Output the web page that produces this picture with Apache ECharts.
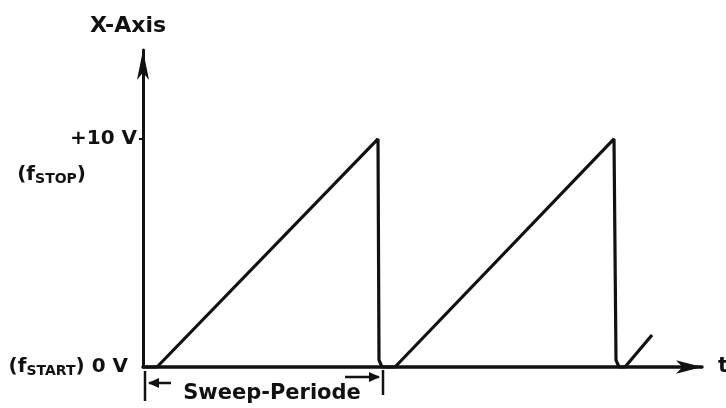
<!DOCTYPE html>
<html>
<head>
<meta charset="utf-8">
<script src="https://cdn.jsdelivr.net/npm/echarts@6/dist/echarts.min.js"></script>
<style>
  html, body { margin: 0; padding: 0; background: #fff; }
  #chart { width: 726px; height: 408px; }
</style>
</head>
<body>
<div id="chart"></div>
<script>
// sweep voltage vs time (time in arbitrary units)
var times = [0, 1.4, 23.5, 23.6, 23.9, 25.2, 47.1, 47.3, 47.6, 48.2, 50.9];
var volts = [0, 0, 10, 0.3, 0, 0, 10, 0.3, 0, 0, 1.4];
var sweepPeriod = [0.2, 24];
var yTicks = { 0: '0 V', 10: '+10 V' };

var font = 'DejaVu Sans';
var ink = '#111';
var chart = echarts.init(document.getElementById('chart'));

var option = {
    animation: false,
    backgroundColor: '#fff',
    grid: { left: 143, right: 24, top: 50, bottom: 41, containLabel: false, outerBoundsMode: 'none' },
    xAxis: {
        type: 'value',
        min: 0,
        max: 55.9,
        name: 't',
        nameGap: 16,
        nameTextStyle: { color: ink, fontFamily: font, fontSize: 21, fontWeight: 'bold' },
        axisLine: { lineStyle: { color: ink, width: 3.5 }, symbol: ['none', 'arrow'], symbolSize: [10, 26] },
        axisTick: { show: false },
        axisLabel: { show: false },
        splitLine: { show: false }
    },
    yAxis: {
        type: 'value',
        min: 0,
        max: 13.9,
        interval: 10,
        name: 'X-Axis',
        nameGap: 13,
        nameTextStyle: { color: ink, fontFamily: font, fontSize: 22, fontWeight: 'bold', padding: [0, 30, 0, 0] },
        axisLine: { lineStyle: { color: ink, width: 3 }, symbol: ['none', 'arrow'], symbolSize: [9, 30] },
        axisTick: { show: true, customValues: [10], length: 4, lineStyle: { color: ink, width: 2 } },
        splitLine: { show: false },
        axisLabel: {
            customValues: [0, 10],
            margin: 6,
            color: ink,
            fontFamily: font,
            fontSize: 20,
            fontWeight: 'bold',
            formatter: function (v) {
                if (v === 0) return '{p|(f}{s|START}{p|)} 0 V{g|}';
                return yTicks[v] || '';
            },
            rich: {
                p: { fontFamily: font, fontSize: 20, fontWeight: 'bold', color: ink },
                s: { fontFamily: font, fontSize: 14, fontWeight: 'bold', color: ink, verticalAlign: 'bottom', padding: [9, 0, 0, 0] },
                g: { width: 9 }
            }
        }
    },
    series: [{
        type: 'line',
        data: times.map(function (t, i) { return [t, volts[i]]; }),
        showSymbol: false,
        clip: false,
        lineStyle: { color: ink, width: 3.2 }
    }]
};
chart.setOption(option);

// annotations placed from data coordinates
var a = chart.convertToPixel({ gridIndex: 0 }, [sweepPeriod[0], 0]);
var b = chart.convertToPixel({ gridIndex: 0 }, [sweepPeriod[1], 0]);
var stop = chart.convertToPixel({ gridIndex: 0 }, [0, 10]);
chart.setOption({
    graphic: [
        { type: 'line', shape: { x1: a[0], y1: a[1] + 4, x2: a[0], y2: a[1] + 34 }, style: { stroke: ink, lineWidth: 2.5 } },
        { type: 'line', shape: { x1: b[0], y1: b[1] + 3, x2: b[0], y2: b[1] + 28 }, style: { stroke: ink, lineWidth: 2.5 } },
        { type: 'line', shape: { x1: a[0] + 4, y1: a[1] + 16, x2: a[0] + 26, y2: a[1] + 16 }, style: { stroke: ink, lineWidth: 2.5 } },
        { type: 'polygon', shape: { points: [[a[0] + 3, a[1] + 16], [a[0] + 14, a[1] + 11], [a[0] + 14, a[1] + 21]] }, style: { fill: ink } },
        { type: 'line', shape: { x1: b[0] - 38, y1: b[1] + 10, x2: b[0] - 4, y2: b[1] + 10 }, style: { stroke: ink, lineWidth: 2.5 } },
        { type: 'polygon', shape: { points: [[b[0] - 3, b[1] + 10], [b[0] - 14, b[1] + 5], [b[0] - 14, b[1] + 15]] }, style: { fill: ink } },
        {
            type: 'text', x: (a[0] + b[0]) / 2 + 8, y: a[1] + 27,
            style: { text: 'Sweep-Periode', fill: ink, font: 'bold 21px "' + font + '"', align: 'center', verticalAlign: 'middle' }
        },
        {
            type: 'text', x: stop[0] - 57, y: stop[1] + 36,
            style: {
                text: '{p|(f}{s|STOP}{p|)}', align: 'right', verticalAlign: 'middle',
                rich: {
                    p: { fontFamily: font, fontSize: 20, fontWeight: 'bold', fill: ink },
                    s: { fontFamily: font, fontSize: 14, fontWeight: 'bold', fill: ink, verticalAlign: 'bottom', padding: [9, 0, 0, 0] }
                }
            }
        }
    ]
});
</script>
</body>
</html>
